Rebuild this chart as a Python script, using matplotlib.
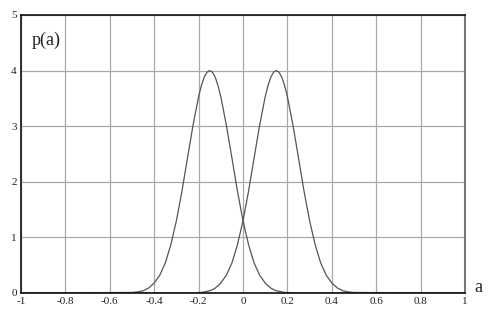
import matplotlib
matplotlib.use("Agg")
import matplotlib.pyplot as plt

a_vals = [-1.0, -0.5, -0.475, -0.45, -0.425, -0.4, -0.375, -0.35, -0.325, -0.3,
          -0.275, -0.25, -0.225, -0.2, -0.1875, -0.175, -0.1625, -0.15, -0.1375, -0.125,
          -0.1125, -0.1, -0.075, -0.05, -0.025,
          0.0,
          0.025, 0.05, 0.075, 0.1, 0.1125, 0.125, 0.1375, 0.15, 0.1625, 0.175,
          0.1875, 0.2, 0.225, 0.25, 0.275, 0.3, 0.325, 0.35, 0.375, 0.4,
          0.425, 0.45, 0.475, 0.5, 1.0]
p_left = [0, 0.01, 0.02, 0.04, 0.09, 0.18, 0.32, 0.54, 0.87, 1.30,
          1.83, 2.43, 3.02, 3.53, 3.73, 3.88, 3.97, 4.00, 3.97, 3.88,
          3.73, 3.53, 3.02, 2.43, 1.83,
          1.30,
          0.87, 0.54, 0.32, 0.18, 0.13, 0.09, 0.06, 0.04, 0.03, 0.02,
          0.01, 0.01, 0, 0, 0, 0, 0, 0, 0, 0,
          0, 0, 0, 0, 0]
p_right = p_left[::-1]

x_ticks = [-1, -0.8, -0.6, -0.4, -0.2, 0, 0.2, 0.4, 0.6, 0.8, 1]
x_tick_labels = ["-1", "-0.8", "-0.6", "-0.4", "-0.2", "0", "0.2", "0.4", "0.6", "0.8", "1"]
y_ticks = [0, 1, 2, 3, 4, 5]
y_tick_labels = ["0", "1", "2", "3", "4", "5"]

plt.rcParams['font.family'] = ['Liberation Serif', 'DejaVu Serif']

fig = plt.figure(figsize=(4.91, 3.12), dpi=100)
ax = fig.add_axes([21/491, 19/312, 444/491, 278/312])
ax.set_xlim(-1, 1)
ax.set_ylim(0, 5)

ax.plot(a_vals, p_left, color='#555555', lw=0.9)
ax.plot(a_vals, p_right, color='#555555', lw=0.9)

ax.set_xticks(x_ticks)
ax.set_xticklabels(x_tick_labels)
ax.set_yticks(y_ticks)
ax.set_yticklabels(y_tick_labels)
ax.tick_params(length=0, labelsize=8, pad=3, colors='#222222')
ax.grid(True, color='#a8a8a8', lw=0.9)
ax.set_axisbelow(True)

for side in ['left', 'top', 'bottom']:
    ax.spines[side].set_color('#111111')
    ax.spines[side].set_linewidth(1.2)
ax.spines['right'].set_color('#777777')
ax.spines['right'].set_linewidth(1.5)

ax.text(0.025, 0.91, 'p(a)', transform=ax.transAxes, fontsize=13,
        ha='left', va='center', color='#222222')
fig.text(474/491, 1 - 287/312, 'a', fontsize=13, ha='left', va='center', color='#222222')

fig.savefig('out.png', dpi=100, facecolor='white')
